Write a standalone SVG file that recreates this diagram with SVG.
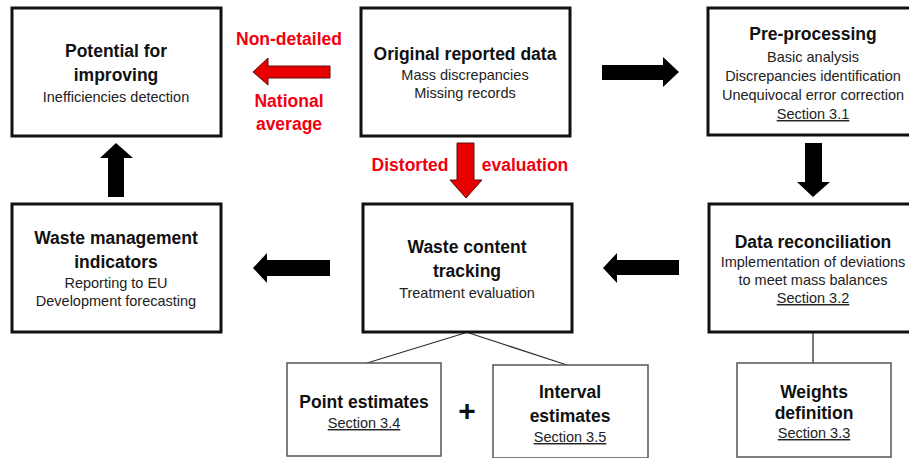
<svg xmlns="http://www.w3.org/2000/svg" width="909" height="458" viewBox="0 0 909 458">
<style>
.big{fill:#fff;stroke:#111;stroke-width:3}
.small{fill:#fff;stroke:#555;stroke-width:1.5}
text{font-family:"Liberation Sans",Arial,sans-serif;text-anchor:middle}
.t{font-size:17.5px;font-weight:bold;fill:#111}
.s{font-size:14.5px;fill:#222}
.u{text-decoration:underline}
.r{font-size:17.5px;font-weight:bold;fill:#f00010}
.blk{fill:#000}
.red{fill:#e80000;stroke:#5a1010;stroke-width:1}
.ln{stroke:#333;stroke-width:1.3;fill:none}
</style>
<rect width="909" height="458" fill="#fff"/>
<g id="connectors">
<polygon class="red" points="330,66 268,66 268,58 253,72 268,85 268,78 330,78"/>
<polygon class="red" points="457,143 474,143 474,180 482,180 466,198 450,180 457,180"/>
<polygon class="blk" points="602,65 663,65 663,57 679,72 663,87 663,80 602,80"/>
<polygon class="blk" points="805,143 822,143 822,182 830,182 813,197 797,182 805,182"/>
<polygon class="blk" points="679,260 617,260 617,253 603,268 617,283 617,275 679,275"/>
<polygon class="blk" points="330,260 267,260 267,253 253,268 267,283 267,276 330,276"/>
<polygon class="blk" points="108,197 108,158 100,158 116,143 133,158 124,158 124,197"/>
<line class="ln" x1="465" y1="333" x2="367" y2="363"/>
<line class="ln" x1="469" y1="333" x2="567" y2="365"/>
<line class="ln" x1="813" y1="333" x2="813" y2="363"/>
<text class="r" x="289" y="45">Non-detailed</text>
<text class="r" x="289" y="107">National</text>
<text class="r" x="289" y="130">average</text>
<text class="r" x="410" y="171">Distorted</text>
<text class="r" x="525" y="171">evaluation</text>
<text x="467" y="421" style="font-size:30px;font-weight:bold;fill:#111">+</text>
</g>
<g id="potential">
<rect class="big" x="12" y="8" width="209" height="128"/>
<text class="t" x="116" y="57">Potential for</text>
<text class="t" x="116" y="81">improving</text>
<text class="s" x="116" y="102">Inefficiencies detection</text>
</g>
<g id="original">
<rect class="big" x="361" y="8" width="209" height="128"/>
<text class="t" x="465" y="60">Original reported data</text>
<text class="s" x="465" y="80">Mass discrepancies</text>
<text class="s" x="465" y="98">Missing records</text>
</g>
<g id="preprocessing">
<rect class="big" x="708" y="8" width="210" height="127"/>
<text class="t" x="813" y="40">Pre-processing</text>
<text class="s" x="813" y="62">Basic analysis</text>
<text class="s" x="813" y="81">Discrepancies identification</text>
<text class="s" x="813" y="100">Unequivocal error correction</text>
<text class="s u" x="813" y="119">Section 3.1</text>
</g>
<g id="indicators">
<rect class="big" x="12" y="204" width="209" height="128"/>
<text class="t" x="116" y="244">Waste management</text>
<text class="t" x="116" y="268">indicators</text>
<text class="s" x="116" y="288">Reporting to EU</text>
<text class="s" x="116" y="306">Development forecasting</text>
</g>
<g id="tracking">
<rect class="big" x="363" y="204" width="209" height="128"/>
<text class="t" x="467" y="253">Waste content</text>
<text class="t" x="467" y="277">tracking</text>
<text class="s" x="467" y="298">Treatment evaluation</text>
</g>
<g id="reconciliation">
<rect class="big" x="709" y="204" width="210" height="128"/>
<text class="t" x="813" y="248">Data reconciliation</text>
<text class="s" x="813" y="267">Implementation of deviations</text>
<text class="s" x="813" y="285">to meet mass balances</text>
<text class="s u" x="813" y="303">Section 3.2</text>
</g>
<g id="point">
<rect class="small" x="287" y="363" width="154" height="93"/>
<text class="t" x="364" y="408">Point estimates</text>
<text class="s u" x="364" y="428">Section 3.4</text>
</g>
<g id="interval">
<rect class="small" x="493" y="365" width="155" height="93"/>
<text class="t" x="570" y="398">Interval</text>
<text class="t" x="570" y="422">estimates</text>
<text class="s u" x="570" y="442">Section 3.5</text>
</g>
<g id="weights">
<rect class="small" x="737" y="363" width="154" height="94"/>
<text class="t" x="814" y="398">Weights</text>
<text class="t" x="814" y="419">definition</text>
<text class="s u" x="814" y="438">Section 3.3</text>
</g>
</svg>
